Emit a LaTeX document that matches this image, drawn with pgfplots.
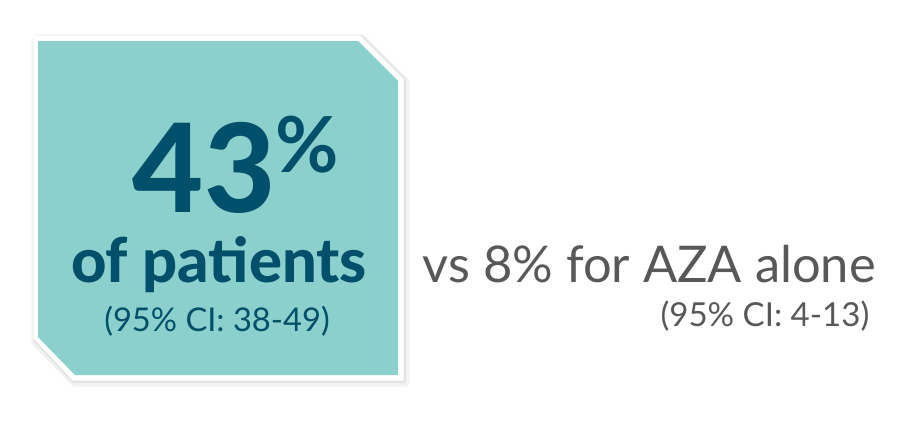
\documentclass[border=0pt]{standalone}
\usepackage{pgfplots}
\pgfplotsset{compat=1.18}
\usepackage{fontspec}
\setmainfont{Lato}
\newfontfamily\latoheavy{Lato Heavy}
\newfontfamily\latobold{Lato Bold}
\definecolor{boxteal}{HTML}{8BD0CC}
\definecolor{darkblue}{HTML}{00506B}
\definecolor{textgray}{HTML}{58585A}
\begin{document}
\begin{tikzpicture}
\begin{axis}[
    width=8.99cm, height=4.21cm,
    scale only axis,
    xmin=0, xmax=899,
    ymin=0, ymax=421,
    y dir=reverse,
    hide axis,
    clip=false,
]
% invisible frame, keeps the page at the full size
\addplot[draw=none] coordinates {(0,0)(899,421)};
% soft shadow
\addplot[draw=black!5, fill=black!5, line width=2.6pt, line join=round]
  coordinates {(36,39)(362,39)(405,82)(405,382)(75,382)(36,342)(36,39)};
\addplot[draw=black!11, fill=black!11, line width=1.1pt, line join=round]
  coordinates {(35,37)(361,37)(404,80)(404,381)(74,381)(35,340)(35,37)};
% white border
\addplot[draw=white, fill=white, line width=0.3pt]
  coordinates {(34,36)(360,36)(403,79)(403,380)(73,380)(34,338)(34,36)};
% teal box
\addplot[draw=none, fill=boxteal]
  coordinates {(38,41)(358,41)(398,81)(398,375)(75,375)(38,337)(38,41)};
% texts
\node[anchor=base west, inner sep=0pt, text=darkblue, font=\latoheavy\fontsize{35}{35}\selectfont]
  at (axis cs:132,213) {43};
\node[anchor=base west, inner sep=0pt, text=darkblue, font=\latobold\fontsize{22}{22}\selectfont]
  at (axis cs:275,172) {\%};
\node[anchor=base, inner sep=0pt, text=darkblue, font=\latoheavy\fontsize{17.5}{17.5}\selectfont]
  at (axis cs:219,283) {of patients};
\node[anchor=base, inner sep=0pt, text=darkblue, font=\fontsize{9.3}{9.3}\selectfont]
  at (axis cs:217,332) {(95\% CI: 38-49)};
\node[anchor=base west, inner sep=0pt, text=textgray, font=\fontsize{14.4}{14.4}\selectfont]
  at (axis cs:422,283) {vs 8\% for AZA alone};
\node[anchor=base east, inner sep=0pt, text=textgray, font=\fontsize{9.4}{9.4}\selectfont]
  at (axis cs:870,326) {(95\% CI: 4-13)};
\end{axis}
\end{tikzpicture}
\end{document}
